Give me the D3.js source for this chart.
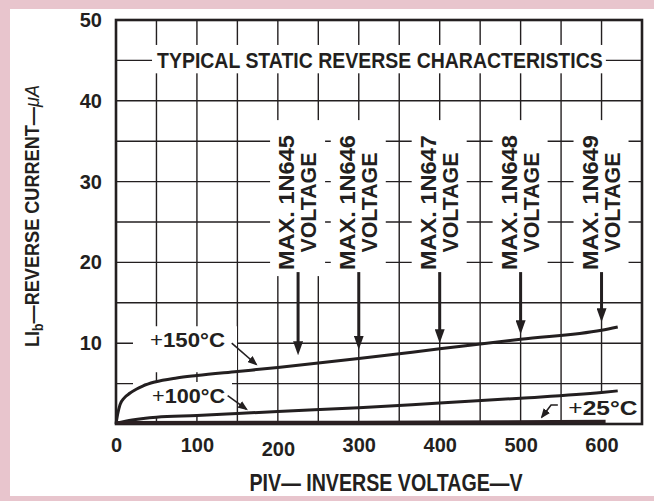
<!DOCTYPE html>
<html lang="en">
<head>
<meta charset="utf-8">
<script src="https://d3js.org/d3.v7.min.js"></script>
<style type="text/css">
body {
  margin: 0;
  background-color: #e8c5cd;
}
svg text {
  font-family: "Liberation Sans", Arial, sans-serif;
  fill: #231f20;
}
</style>
</head>
<body>
<script type="text/javascript">

// ---- data ----
var xTicks = [0, 100, 200, 300, 400, 500, 600];
var yTicks = [10, 20, 30, 40, 50];

// reverse current (uA) vs inverse voltage (V)
var volts150 = [0, 2, 5, 10, 17, 25, 33, 48, 75, 100, 150, 200, 300, 400, 500, 600, 620];
var amps150  = [0, 1.2, 2.4, 3.2, 3.8, 4.3, 4.7, 5.2, 5.7, 6.0, 6.5, 7.0, 8.1, 9.3, 10.5, 11.6, 12.0];
var volts100 = [0, 20, 50, 100, 150, 200, 300, 400, 500, 600, 620];
var amps100  = [0.1, 0.5, 0.85, 1.05, 1.3, 1.55, 2.0, 2.6, 3.2, 3.9, 4.1];
var volts25  = [0, 300, 605];
var amps25   = [0.15, 0.2, 0.3];

var diodes = ["1N645", "1N646", "1N647", "1N648", "1N649"];
var diodeMaxVolts = [225, 300, 400, 500, 600];
var arrowTip = [8.5, 9.2, 10.0, 11.1, 12.6];

var tempNames = ["150", "100", "25"];

// ---- layout ----
var width = 654, height = 501;
var ink = "#231f20";

var x = d3.scaleLinear().domain([0, 650]).range([116, 642]);
var y = d3.scaleLinear().domain([0, 50]).range([424, 20]);

var svg = d3.select("body").append("svg")
  .attr("width", width)
  .attr("height", height)
  .style("display", "block");

// paper
svg.append("rect")
  .attr("x", 10).attr("y", 9)
  .attr("width", width - 10).attr("height", 487)
  .attr("fill", "#ffffff");

svg.append("defs").append("marker")
  .attr("id", "head")
  .attr("markerUnits", "userSpaceOnUse")
  .attr("viewBox", "0 0 14 10")
  .attr("markerWidth", 14).attr("markerHeight", 10)
  .attr("refX", 2).attr("refY", 5)
  .attr("orient", "auto")
  .append("path").attr("d", "M0,0 L14,5 L0,10 z").attr("fill", ink);

svg.select("defs").append("marker")
  .attr("id", "small")
  .attr("markerUnits", "userSpaceOnUse")
  .attr("viewBox", "0 0 10 8")
  .attr("markerWidth", 10).attr("markerHeight", 8)
  .attr("refX", 8).attr("refY", 4)
  .attr("orient", "auto")
  .append("path").attr("d", "M0,0 L10,4 L0,8 z").attr("fill", ink);

// grid
var grid = svg.append("g").attr("stroke", ink).attr("stroke-width", 1.4);
grid.selectAll(".vx").data(d3.range(50, 650, 50)).enter().append("line")
  .attr("x1", d => x(d)).attr("x2", d => x(d))
  .attr("y1", y(50)).attr("y2", y(0));
grid.selectAll(".hy").data(d3.range(5, 50, 5)).enter().append("line")
  .attr("x1", x(0)).attr("x2", x(650))
  .attr("y1", d => y(d)).attr("y2", d => y(d));

// white boxes behind labels go here
var masks = svg.append("g");
var labels = svg.append("g");

function maskBehind(node, pad) {
  var b = node.getBBox();
  masks.append("rect")
    .attr("x", b.x - pad[0]).attr("y", b.y - pad[1])
    .attr("width", b.width + pad[0] + pad[2])
    .attr("height", b.height + pad[1] + pad[3])
    .attr("fill", "#ffffff");
}

// title, squeezed horizontally to the width of the original lettering
var titleG = labels.append("g");
var title = titleG.append("text")
  .attr("font-size", 22).attr("font-weight", "bold")
  .text("TYPICAL STATIC REVERSE CHARACTERISTICS");
var squeeze = 446 / title.node().getComputedTextLength();
title.attr("transform", "translate(" + x(50.7) + "," + y(44.05) + ") scale(" + squeeze + ",1)");
maskBehind(titleG.node(), [5, 3, 3, 1]);

// max voltage labels
diodes.forEach(function(name, i) {
  var cx = x(diodeMaxVolts[i]), cy = y(27.4);
  var g = labels.append("g");
  var t = g.append("g").attr("transform", "translate(" + cx + "," + cy + ") rotate(-90)");
  t.append("text").attr("y", -4)
    .attr("text-anchor", "middle")
    .attr("font-size", 22).attr("font-weight", "bold")
    .attr("textLength", 135).attr("lengthAdjust", "spacingAndGlyphs")
    .text("MAX. " + name);
  t.append("text").attr("y", 18)
    .attr("text-anchor", "middle")
    .attr("font-size", 22).attr("font-weight", "bold")
    .attr("textLength", 100).attr("lengthAdjust", "spacingAndGlyphs")
    .text("VOLTAGE");
  maskBehind(g.node(), [4, 15, 4, 6]);
});

// temperature labels
var tempAt = [[42, 9.5], [44.5, 2.6], [559, 1.1]];
var tempLen = [75, 73, 69];
var tempPad = [[17, 2, 12, 21], [19, 2, 7, 9], [5, 4, 2, 6]];
tempNames.forEach(function(t, i) {
  var txt = labels.append("text")
    .attr("x", x(tempAt[i][0])).attr("y", y(tempAt[i][1]))
    .attr("font-size", 21).attr("font-weight", "bold")
    .attr("textLength", tempLen[i]).attr("lengthAdjust", "spacingAndGlyphs");
  txt.append("tspan").attr("font-weight", "normal").text("+");
  txt.append("tspan").text(t + "°C");
  maskBehind(txt.node(), tempPad[i]);
});

// frame
svg.append("rect")
  .attr("x", x(0)).attr("y", y(50))
  .attr("width", x(650) - x(0)).attr("height", y(0) - y(50))
  .attr("fill", "none").attr("stroke", ink).attr("stroke-width", 2.6);

// curves
var line = d3.line()
  .x(d => x(d[0])).y(d => y(d[1]))
  .curve(d3.curveMonotoneX);

svg.append("path")
  .datum(d3.zip(volts150, amps150))
  .attr("d", line).attr("fill", "none")
  .attr("stroke", ink).attr("stroke-width", 3);
svg.append("path")
  .datum(d3.zip(volts100, amps100))
  .attr("d", line).attr("fill", "none")
  .attr("stroke", ink).attr("stroke-width", 3);
svg.append("path")
  .datum(d3.zip(volts25, amps25))
  .attr("d", line).attr("fill", "none")
  .attr("stroke", "#2b2022").attr("stroke-width", 3.5);

// max voltage arrows
svg.selectAll(".arrow").data(diodeMaxVolts).enter().append("line")
  .attr("x1", d => x(d)).attr("x2", d => x(d))
  .attr("y1", y(18.8))
  .attr("y2", (d, i) => y(arrowTip[i]) - 12)
  .attr("stroke", ink).attr("stroke-width", 3)
  .attr("marker-end", "url(#head)");

// leaders from temperature labels
var leaders = [
  [[143, 10.0], [173, 7.4]],
  [[138, 3.5], [161, 1.85]],
  [[546, 2.35], [537.6, 2.35], [526.4, 0.87]]
];
svg.selectAll(".leader").data(leaders).enter().append("path")
  .attr("d", d3.line().x(d => x(d[0])).y(d => y(d[1])))
  .attr("fill", "none").attr("stroke", ink).attr("stroke-width", 1.6)
  .attr("marker-end", "url(#small)");

// axis labels
var xAxis = svg.append("g")
  .attr("transform", "translate(0," + y(0) + ")")
  .call(d3.axisBottom(x).tickValues(xTicks).tickSize(0).tickPadding(14));
xAxis.select(".domain").remove();
xAxis.attr("font-family", null).attr("font-size", null);
xAxis.selectAll("text")
  .attr("font-size", 20).attr("font-weight", "bold")
  .filter(d => d === 200).attr("y", 18);

var yAxis = svg.append("g")
  .attr("transform", "translate(" + x(0) + ",0)")
  .call(d3.axisLeft(y).tickValues(yTicks).tickSize(0).tickPadding(14));
yAxis.select(".domain").remove();
yAxis.attr("font-family", null).attr("font-size", null);
yAxis.selectAll("text").attr("font-size", 20).attr("font-weight", "bold");

svg.append("text")
  .attr("x", 386).attr("y", 491)
  .attr("text-anchor", "middle")
  .attr("font-size", 23).attr("font-weight", "bold")
  .attr("textLength", 273).attr("lengthAdjust", "spacingAndGlyphs")
  .text("PIV— INVERSE VOLTAGE—V");

var yTitle = svg.append("text")
  .attr("transform", "translate(39,216) rotate(-90)")
  .attr("text-anchor", "middle")
  .attr("font-size", 21).attr("font-weight", "bold")
  .attr("textLength", 262).attr("lengthAdjust", "spacingAndGlyphs");
yTitle.append("tspan").text("LI");
yTitle.append("tspan").attr("dy", 4).attr("font-size", 14).text("b");
yTitle.append("tspan").attr("dy", -4).text("—REVERSE CURRENT—");
yTitle.append("tspan").attr("font-style", "italic").attr("font-weight", "normal").text("μA");

</script>
</body>
</html>
